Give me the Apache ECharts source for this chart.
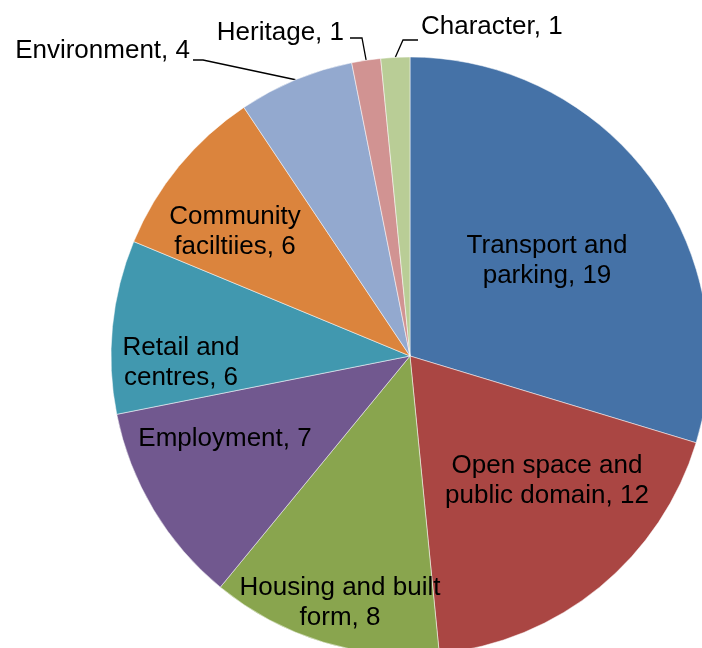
<!DOCTYPE html>
<html>
<head>
<meta charset="utf-8">
<title>Pie</title>
<script src="https://cdn.jsdelivr.net/npm/echarts@6/dist/echarts.min.js"></script>
<style>
  html, body { margin: 0; padding: 0; background: #fff; }
  #chart { width: 702px; height: 648px; }
</style>
</head>
<body>
<div id="chart"></div>
<script>
// categories (line breaks as they wrap in the picture) and counts
var categories = [
  'Transport and\nparking',
  'Open space and\npublic domain',
  'Housing and built\nform',
  'Employment',
  'Retail and\ncentres',
  'Community\nfaciltiies',
  'Environment',
  'Heritage',
  'Character'
]
var counts = [19, 12, 8, 7, 6, 6, 4, 1, 1]
var colors = ['#4572A7', '#AA4643', '#89A54E', '#71588F', '#4198AF', '#DB843D', '#93A9CF', '#D19392', '#B9CD96']

// where each data label sits (label placement only)
var labelSpots = [
  { x: 547, y: 261 },
  { x: 547, y: 481 },
  { x: 340, y: 603 },
  { x: 225, y: 439 },
  { x: 181, y: 363 },
  { x: 235, y: 232 },
  { x: 190, y: 51, align: 'right', line: [[203, 60], [193, 60]] },
  { x: 344, y: 33, align: 'right', line: [[362, 38], [350, 38]] },
  { x: 421, y: 27, align: 'left', line: [[403, 40], [418, 40]] }
]

var myChart = echarts.init(document.getElementById('chart'))
var pieData = categories.map(function (name, i) {
  var outside = !!labelSpots[i].line
  return {
    name: name,
    value: counts[i],
    itemStyle: { color: colors[i] },
    label: { position: outside ? 'outside' : 'inside' },
    labelLine: { show: outside }
  }
})
var option = {
  animation: false,
  series: [
    {
      type: 'pie',
      center: [410, 356],
      radius: [0, 299],
      startAngle: 90,
      clockwise: true,
      avoidLabelOverlap: false,
      itemStyle: { borderColor: '#fff', borderWidth: 0.5 },
      label: {
        show: true,
        color: '#000',
        fontFamily: '"Liberation Sans", Arial, sans-serif',
        fontSize: 26,
        lineHeight: 30,
        formatter: function (p) { return p.name + ', ' + p.value }
      },
      labelLine: {
        lineStyle: { color: '#000', width: 1.3 },
        length: 20,
        length2: 10
      },
      labelLayout: function (params) {
        var spot = labelSpots[params.dataIndex]
        var out = { x: spot.x, y: spot.y, align: spot.align || 'center', verticalAlign: 'middle' }
        if (spot.line && params.labelLinePoints) {
          out.labelLinePoints = [params.labelLinePoints[0], spot.line[0], spot.line[1]]
        }
        return out
      },
      data: pieData
    }
  ]
}
myChart.setOption(option)
</script>
</body>
</html>
